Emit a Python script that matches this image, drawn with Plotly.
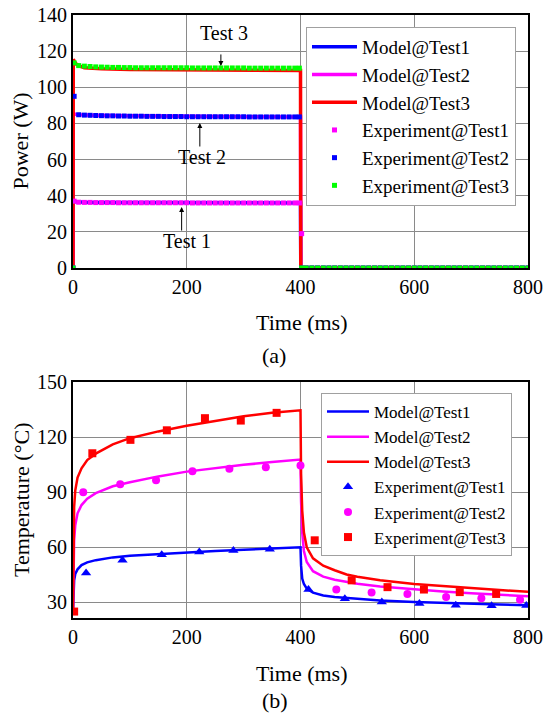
import plotly.graph_objects as go

# ---------------- Panel (a): power ----------------
T_MODEL_A = [0, 0.5, 2, 5, 10, 20, 50, 100, 200, 300, 400, 400.5, 800]
P_MODEL_T1 = [0, 37.0, 36.8, 36.6, 36.5, 36.4, 36.3, 36.2, 36.1, 36.0, 36.0, 0, 0]
P_MODEL_T2 = [0, 85.8, 85.3, 85.0, 84.8, 84.6, 84.4, 84.2, 83.9, 83.7, 83.5, 0, 0]
P_MODEL_T3 = [0, 115.5, 114.5, 113.0, 112.0, 110.8, 110.2, 109.9, 109.7, 109.5, 109.3, 0, 0]

T_EXP_A = [0, 2,
           10, 20, 30, 40, 50, 60, 70, 80, 90, 100,
           110, 120, 130, 140, 150, 160, 170, 180, 190, 200,
           210, 220, 230, 240, 250, 260, 270, 280, 290, 300,
           310, 320, 330, 340, 350, 360, 370, 380, 390,
           398, 402,
           410, 420, 430, 440, 450, 460, 470, 480, 490, 500,
           510, 520, 530, 540, 550, 560, 570, 580, 590, 600,
           610, 620, 630, 640, 650, 660, 670, 680, 690, 700,
           710, 720, 730, 740, 750, 760, 770, 780, 790, 800]
P_EXP_T1 = [0, 37.0,
            36.4, 36.3, 36.3, 36.2, 36.2, 36.2, 36.2, 36.1, 36.1, 36.1,
            36.1, 36.1, 36.1, 36.1, 36.1, 36.1, 36.1, 36.1, 36.1, 36.1,
            36.0, 36.0, 36.0, 36.0, 36.0, 36.0, 36.0, 36.0, 36.0, 36.0,
            36.0, 36.0, 36.0, 36.0, 36.0, 36.0, 36.0, 36.0, 36.0,
            36.0, 19.0,
            0, 0, 0, 0, 0, 0, 0, 0, 0, 0,
            0, 0, 0, 0, 0, 0, 0, 0, 0, 0,
            0, 0, 0, 0, 0, 0, 0, 0, 0, 0,
            0, 0, 0, 0, 0, 0, 0, 0, 0, 0]
P_EXP_T2 = [0, 95.0,
            84.8, 84.6, 84.5, 84.4, 84.3, 84.2, 84.2, 84.1, 84.1, 84.0,
            84.0, 84.0, 83.9, 83.9, 83.9, 83.8, 83.8, 83.8, 83.8, 83.7,
            83.7, 83.7, 83.7, 83.7, 83.7, 83.7, 83.7, 83.7, 83.7, 83.7,
            83.6, 83.6, 83.6, 83.6, 83.6, 83.6, 83.6, 83.6, 83.6,
            83.6, 0,
            0, 0, 0, 0, 0, 0, 0, 0, 0, 0,
            0, 0, 0, 0, 0, 0, 0, 0, 0, 0,
            0, 0, 0, 0, 0, 0, 0, 0, 0, 0,
            0, 0, 0, 0, 0, 0, 0, 0, 0, 0]
P_EXP_T3 = [0, 113.5,
            112.0, 111.7, 111.5, 111.3, 111.2, 111.1, 111.0, 111.0, 110.9, 110.9,
            110.8, 110.8, 110.8, 110.8, 110.8, 110.8, 110.8, 110.8, 110.8, 110.8,
            110.7, 110.7, 110.7, 110.7, 110.7, 110.7, 110.7, 110.7, 110.7, 110.7,
            110.6, 110.6, 110.6, 110.6, 110.6, 110.6, 110.6, 110.6, 110.6,
            110.6, 0,
            0, 0, 0, 0, 0, 0, 0, 0, 0, 0,
            0, 0, 0, 0, 0, 0, 0, 0, 0, 0,
            0, 0, 0, 0, 0, 0, 0, 0, 0, 0,
            0, 0, 0, 0, 0, 0, 0, 0, 0, 0]

# ---------------- Panel (b): temperature ----------------
T_MODEL_B = [0, 0.5, 1, 2, 4, 8, 15, 25, 40, 70, 100, 150, 200, 250, 300, 350, 400,
             401, 403, 406, 411, 422, 440, 460, 481, 500, 540, 600, 650, 700, 750, 800]
TEMP_MODEL_T1 = [25, 33, 38, 42, 45.5, 48, 50.3, 51.8, 53, 54.5, 55.4, 56.4, 57.3, 58, 58.7, 59.4, 60,
                 50, 43, 40, 37.5, 35.3, 33.8, 32.9, 32.3, 31.8, 31.0, 30.2, 29.6, 29.1, 28.8, 28.5]
TEMP_MODEL_T2 = [25, 45, 55, 64, 72, 78.5, 83, 86.5, 89.5, 93.2, 95.4, 98.6, 101.2, 103.2, 104.9, 106.4, 107.8,
                 85, 68, 58, 52, 47, 44, 42.3, 41, 40.2, 38.6, 37, 35.9, 35, 34.1, 33.3]
TEMP_MODEL_T3 = [25, 55, 70, 82, 91, 98, 103, 107.5, 111, 116, 119.4, 123.1, 126.2, 128.9, 131.3, 133.2, 134.6,
                 100, 80, 68, 60, 54, 50, 47.5, 45.2, 44, 42, 40, 38.8, 37.7, 36.7, 35.8]

T_EXP_B_T1 = [23, 87, 156, 222, 282, 346, 414, 478, 543, 609, 673, 736, 797]
TEMP_EXP_T1 = [46, 53, 56, 57.5, 58.2, 59, 37, 32, 30.2, 29.4, 28.5, 28.2, 28.3]
T_EXP_B_T2 = [18, 83, 146, 210, 275, 339, 400, 463, 525, 588, 656, 718, 786]
TEMP_EXP_T2 = [90, 94.3, 96.5, 101.4, 102.7, 103.6, 104.5, 37, 35.4, 34.5, 33, 32.3, 31.5]
T_EXP_B_T3 = [2, 34, 101, 165, 232, 295, 358, 425, 490, 553, 617, 680, 744]
TEMP_EXP_T3 = [25, 111.2, 118.5, 123.7, 130.3, 129, 133.2, 63.8, 42, 38.3, 37, 35.6, 34.6]

X_TICKS = [0, 200, 400, 600, 800]
YA_TICKS = [0, 20, 40, 60, 80, 100, 120, 140]
YB_TICKS = [30, 60, 90, 120, 150]

BLUE, MAGENTA, RED, GREEN = "#0000FF", "#FF00FF", "#FF0000", "#00FF00"
FONT = "Liberation Serif"

fig = go.Figure()

# Panel a traces
for name, y, c in [("Model@Test1", P_MODEL_T1, BLUE),
                   ("Model@Test2", P_MODEL_T2, MAGENTA),
                   ("Model@Test3", P_MODEL_T3, RED)]:
    fig.add_trace(go.Scatter(x=T_MODEL_A, y=y, mode="lines", name=name,
                             line=dict(color=c, width=3.5), xaxis="x", yaxis="y",
                             legend="legend"))
for name, y, c in [("Experiment@Test1", P_EXP_T1, MAGENTA),
                   ("Experiment@Test2", P_EXP_T2, BLUE),
                   ("Experiment@Test3", P_EXP_T3, GREEN)]:
    fig.add_trace(go.Scatter(x=T_EXP_A, y=y, mode="markers", name=name,
                             marker=dict(color=c, symbol="square", size=5, line=dict(width=0)),
                             xaxis="x", yaxis="y", legend="legend"))

# Panel b traces
for name, y, c in [("Model@Test1", TEMP_MODEL_T1, BLUE),
                   ("Model@Test2", TEMP_MODEL_T2, MAGENTA),
                   ("Model@Test3", TEMP_MODEL_T3, RED)]:
    fig.add_trace(go.Scatter(x=T_MODEL_B, y=y, mode="lines", name=name,
                             line=dict(color=c, width=2.5), xaxis="x2", yaxis="y2",
                             legend="legend2"))
for name, x, y, c, sym, sz in [("Experiment@Test1", T_EXP_B_T1, TEMP_EXP_T1, BLUE, "triangle-up", 9),
                               ("Experiment@Test2", T_EXP_B_T2, TEMP_EXP_T2, MAGENTA, "circle", 8),
                               ("Experiment@Test3", T_EXP_B_T3, TEMP_EXP_T3, RED, "square", 8)]:
    fig.add_trace(go.Scatter(x=x, y=y, mode="markers", name=name,
                             marker=dict(color=c, symbol=sym, size=sz, line=dict(width=0)),
                             xaxis="x2", yaxis="y2", legend="legend2"))

W, H = 544, 716
def py(p):
    return 1 - p / H

axis_common = dict(showgrid=True, gridcolor="#8a8a8a", gridwidth=1, automargin=False,
                   showline=True, mirror=True, linecolor="black", linewidth=2,
                   zeroline=False, ticks="", tickfont=dict(family=FONT, size=20, color="black"))

fig.update_layout(
    width=W, height=H,
    margin=dict(l=0, r=0, t=0, b=0, autoexpand=False),
    paper_bgcolor="white", plot_bgcolor="white",
    font=dict(family=FONT, color="black"),
    xaxis=dict(domain=[73 / W, 528 / W], anchor="y", range=[0, 800], tickvals=X_TICKS, **axis_common),
    yaxis=dict(domain=[py(268), py(15)], anchor="x", range=[0, 140], tickvals=YA_TICKS, **axis_common),
    xaxis2=dict(domain=[73 / W, 528 / W], anchor="y2", range=[0, 800], tickvals=X_TICKS, **axis_common),
    yaxis2=dict(domain=[py(618), py(382)], anchor="x2", range=[21.5, 150], tickvals=YB_TICKS, **axis_common),
    legend=dict(x=306 / W, y=py(27), xanchor="left", yanchor="top",
                bgcolor="white", bordercolor="#a0a0a0", borderwidth=1,
                font=dict(family=FONT, size=19, color="black"), itemwidth=45, tracegroupgap=0),
    legend2=dict(x=321 / W, y=py(393), xanchor="left", yanchor="top",
                 bgcolor="white", bordercolor="#a0a0a0", borderwidth=1,
                 font=dict(family=FONT, size=17, color="black"), itemwidth=42, tracegroupgap=0),
    showlegend=True,
)

ann = []
def label(text, x, y, size=22, angle=0):
    ann.append(dict(text=text, x=x / W, y=py(y), xref="paper", yref="paper",
                    showarrow=False, xanchor="center", yanchor="middle", textangle=angle,
                    borderpad=0, font=dict(family=FONT, size=size, color="black")))

label("Power (W)", 20, 141.5, angle=-90)
label("Time (ms)", 301, 322)
label("(a)", 274, 355)
label("Temperature (°C)", 21, 500, angle=-90)
label("Time (ms)", 301, 673)
label("(b)", 275, 700)

# "Test n" labels with arrows in panel a
for text, tx, ty in [("Test 3", 265, 130), ("Test 2", 227, 61.4), ("Test 1", 200, 15)]:
    ann.append(dict(text=text, x=tx, y=ty, xref="x", yref="y", showarrow=False,
                    xanchor="center", yanchor="middle",
                    font=dict(family=FONT, size=20, color="black")))
for x0, y_tail, y_tip in [(260, 119.0, 111.8), (223, 66.4, 80.2), (191, 19.9, 33.8)]:
    ann.append(dict(text="", x=x0, y=y_tip, ax=x0, ay=y_tail, xref="x", yref="y",
                    axref="x", ayref="y", showarrow=True, arrowhead=2, arrowsize=1,
                    arrowwidth=1, arrowcolor="black"))

fig.update_layout(annotations=ann)
fig.write_html("out.html", config={"displayModeBar": False},
               post_script="document.body.style.margin='0px';document.body.style.padding='0px';")
